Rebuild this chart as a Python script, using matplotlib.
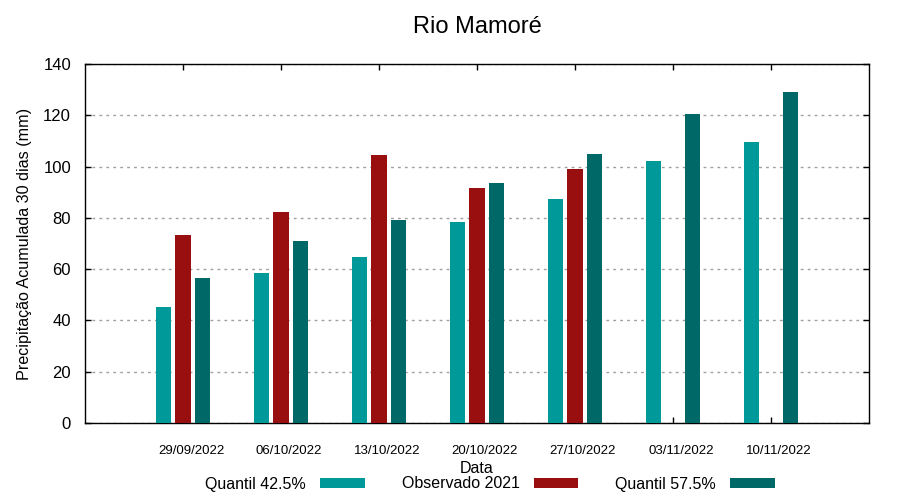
import numpy as np
import matplotlib
matplotlib.use("Agg")
import matplotlib.pyplot as plt
import matplotlib.transforms as mtransforms

plt.rcParams['font.family'] = ['Liberation Sans', 'DejaVu Sans']

datas = ["29/09/2022", "06/10/2022", "13/10/2022", "20/10/2022",
         "27/10/2022", "03/11/2022", "10/11/2022"]
quantil_425 = [45.2, 58.5, 64.7, 78.4, 87.4, 102.2, 109.6]
observado_2021 = [73.3, 82.3, 104.5, 91.7, 99.1, np.nan, np.nan]
quantil_575 = [56.5, 71.0, 79.2, 93.6, 105.0, 120.5, 129.1]

cores = ["#009999", "#990f0f", "#006866"]

fig = plt.figure(figsize=(9, 5), dpi=100)
ax = fig.add_axes([85/900, 1 - 423/500, 784/900, 359/500])

x = np.arange(len(datas))
w = 0.16
ax.bar(x - 0.2, quantil_425, w, color=cores[0], label="Quantil 42.5%", zorder=3)
ax.bar(x, observado_2021, w, color=cores[1], label="Observado 2021", zorder=3)
ax.bar(x + 0.2, quantil_575, w, color=cores[2], label="Quantil 57.5%", zorder=3)

ax.set_xlim(-1, 7)
ax.set_ylim(0, 140)
ax.set_yticks(np.arange(0, 141, 20))
ax.set_xticks(x)
ax.set_xticklabels(datas, fontsize=9.5)
ax.tick_params(axis='x', direction='in', top=True, length=4, pad=16, width=1)
ax.tick_params(axis='y', direction='in', right=True, length=4, pad=10, width=1, labelsize=12)
# gnuplot puts the date labels a bit to the right of the ticks
off = mtransforms.ScaledTranslation(8/100, 0, fig.dpi_scale_trans)
for lbl in ax.get_xticklabels():
    lbl.set_transform(lbl.get_transform() + off)

ax.yaxis.grid(True, linestyle=(0, (2, 3)), color="#a0a0a0", linewidth=1, zorder=0)
for s in ax.spines.values():
    s.set_linewidth(1)

ax.set_title("Rio Mamoré", fontsize=17, pad=22)
ax.set_xlabel("Data", fontsize=11.5, labelpad=3)
ax.set_ylabel("Precipitação Acumulada 30 dias (mm)", fontsize=11.6, labelpad=8)

fig.legend(loc="center", bbox_to_anchor=(490/900, 1 - 484/500), ncol=3,
           markerfirst=False, frameon=False, fontsize=11.5, handlelength=2.8,
           handleheight=0.6, handletextpad=0.9, columnspacing=2.3)

fig.savefig("out.png", dpi=100)
